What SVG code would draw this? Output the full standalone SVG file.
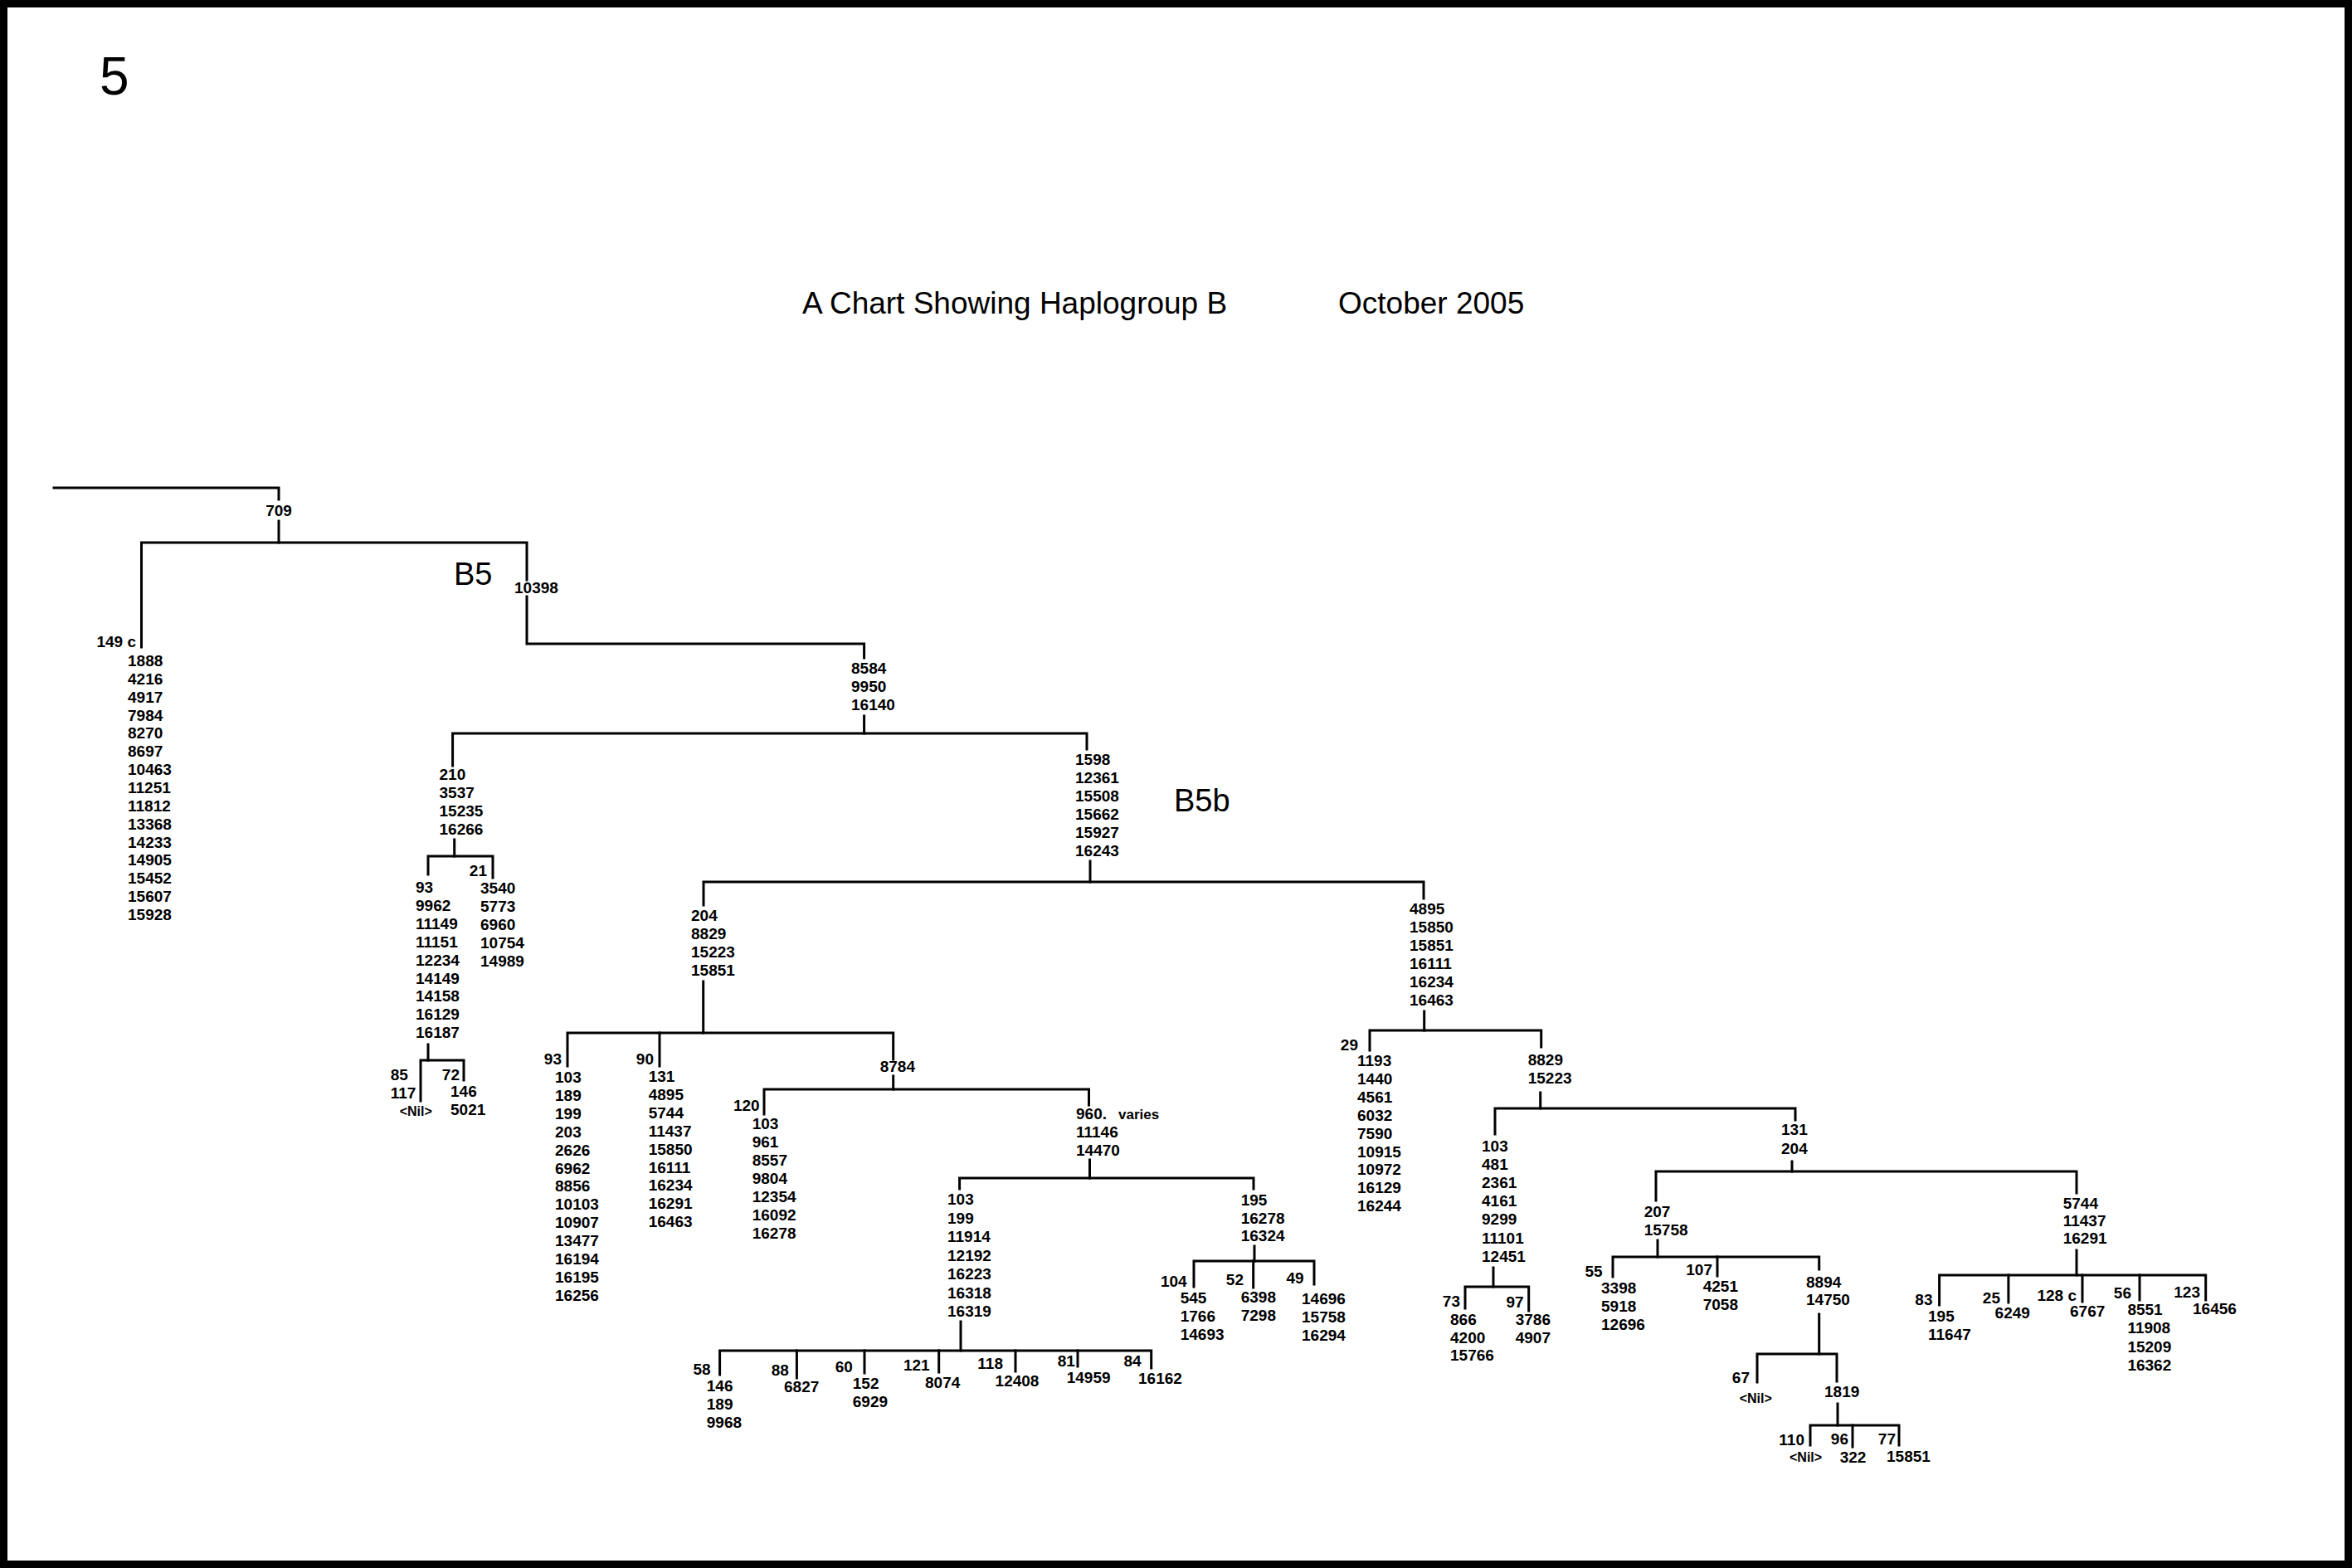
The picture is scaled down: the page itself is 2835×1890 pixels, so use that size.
<svg xmlns="http://www.w3.org/2000/svg" width="2835" height="1890" viewBox="0 0 2835 1890">
<style>
text{font-family:"Liberation Sans",Arial,sans-serif;fill:#000}
.t{font-size:19px;font-weight:bold}
.e{text-anchor:end}
.m{text-anchor:middle}
.nil{font-size:16px;font-weight:bold}
.sm{font-size:17px;font-weight:bold}
.big{font-size:38px}
.title{font-size:37px}
.num{font-size:64px}
#connectors path{fill:none;stroke:#000;stroke-width:3;stroke-linecap:square;stroke-linejoin:miter}
</style>
<rect x="0" y="0" width="2835" height="1890" fill="#fff"/>
<rect x="4.5" y="4.5" width="2826" height="1881" fill="none" stroke="#000" stroke-width="9"/>
<g id="header">
<text class="num" x="120" y="114">5</text>
<text class="title" x="967" y="378">A Chart Showing Haplogroup B</text>
<text class="title" x="1613" y="378">October 2005</text>
<text class="big" x="547" y="705">B5</text>
<text class="big" x="1415" y="978">B5b</text>
</g>
<g id="connectors">
<path d="M65 588H336V602"/>
<path d="M336 628V654"/>
<path d="M170.5 780V654H635V699"/>
<path d="M635 719V776H1041.6V793"/>
<path d="M1041.6 863V884"/>
<path d="M545.6 923V884H1310V903"/>
<path d="M547.7 1012V1032"/>
<path d="M516 1054V1032H594V1058"/>
<path d="M516 1259V1278"/>
<path d="M507 1327V1278H559V1302"/>
<path d="M1314 1038V1063"/>
<path d="M848 1091V1063H1716V1083"/>
<path d="M847.7 1183V1245"/>
<path d="M684 1285V1245H1076.7V1277"/>
<path d="M795 1245V1285"/>
<path d="M1076.7 1297V1313"/>
<path d="M921 1343V1313H1312.5V1332"/>
<path d="M1313.5 1398V1420"/>
<path d="M1156.6 1433V1420H1511V1433"/>
<path d="M1158 1593V1628"/>
<path d="M867.6 1657V1628H1387.7V1649"/>
<path d="M960.4 1628V1661"/>
<path d="M1042 1628V1655"/>
<path d="M1131.7 1628V1654"/>
<path d="M1224 1628V1653"/>
<path d="M1299 1628V1647"/>
<path d="M1512 1502V1520"/>
<path d="M1439 1551V1520H1584V1548"/>
<path d="M1510.7 1520V1552"/>
<path d="M1716.7 1219V1242"/>
<path d="M1651 1266V1242H1857.7V1262"/>
<path d="M1856.7 1317V1336"/>
<path d="M1802 1367V1336H2164V1350"/>
<path d="M1800 1528V1551"/>
<path d="M1766 1577V1551H1842.7V1580"/>
<path d="M2160 1400V1412"/>
<path d="M1996 1447V1412H2503V1438"/>
<path d="M1998 1495V1515"/>
<path d="M1944 1539V1515H2192.7V1530"/>
<path d="M2070 1515V1538"/>
<path d="M2192.7 1584V1632"/>
<path d="M2118 1666V1632H2214V1665"/>
<path d="M2215 1692V1718"/>
<path d="M2182 1742V1718H2289V1742"/>
<path d="M2233 1718V1744"/>
<path d="M2503 1507V1537"/>
<path d="M2337.6 1573V1537H2658.7V1567"/>
<path d="M2420.9 1537V1570"/>
<path d="M2510 1537V1569"/>
<path d="M2579 1537V1567"/>
</g>
<g id="n709"><text class="t m" x="336" y="622">709</text></g>
<g id="n149c">
<text class="t e" x="164" y="780">149 c</text>
<text class="t" x="154" y="803">1888<tspan x="154" dy="21.86">4216</tspan><tspan x="154" dy="21.86">4917</tspan><tspan x="154" dy="21.86">7984</tspan><tspan x="154" dy="21.86">8270</tspan><tspan x="154" dy="21.86">8697</tspan><tspan x="154" dy="21.86">10463</tspan><tspan x="154" dy="21.86">11251</tspan><tspan x="154" dy="21.86">11812</tspan><tspan x="154" dy="21.86">13368</tspan><tspan x="154" dy="21.86">14233</tspan><tspan x="154" dy="21.86">14905</tspan><tspan x="154" dy="21.86">15452</tspan><tspan x="154" dy="21.86">15607</tspan><tspan x="154" dy="21.86">15928</tspan></text>
</g>
<g id="n10398"><text class="t" x="620" y="715">10398</text></g>
<g id="n8584"><text class="t" x="1026" y="812">8584<tspan x="1026" dy="22">9950</tspan><tspan x="1026" dy="22">16140</tspan></text></g>
<g id="n210"><text class="t" x="529.5" y="940">210<tspan x="529.5" dy="22">3537</tspan><tspan x="529.5" dy="22">15235</tspan><tspan x="529.5" dy="22">16266</tspan></text></g>
<g id="n93a"><text class="t" x="501" y="1076">93<tspan x="501" dy="21.9">9962</tspan><tspan x="501" dy="21.9">11149</tspan><tspan x="501" dy="21.9">11151</tspan><tspan x="501" dy="21.9">12234</tspan><tspan x="501" dy="21.9">14149</tspan><tspan x="501" dy="21.9">14158</tspan><tspan x="501" dy="21.9">16129</tspan><tspan x="501" dy="21.9">16187</tspan></text></g>
<g id="n21">
<text class="t e" x="587" y="1056">21</text>
<text class="t" x="579" y="1077">3540<tspan x="579" dy="21.9">5773</tspan><tspan x="579" dy="21.9">6960</tspan><tspan x="579" dy="21.9">10754</tspan><tspan x="579" dy="21.9">14989</tspan></text>
</g>
<g id="n85">
<text class="t" x="470.7" y="1302">85<tspan x="470.7" dy="22">117</tspan></text>
<text class="nil" x="481.7" y="1345">&lt;Nil&gt;</text>
</g>
<g id="n72">
<text class="t e" x="554" y="1302">72</text>
<text class="t" x="543" y="1322">146<tspan x="543" dy="22">5021</tspan></text>
</g>
<g id="n1598"><text class="t" x="1296" y="922">1598<tspan x="1296" dy="22">12361</tspan><tspan x="1296" dy="22">15508</tspan><tspan x="1296" dy="22">15662</tspan><tspan x="1296" dy="22">15927</tspan><tspan x="1296" dy="22">16243</tspan></text></g>
<g id="n204"><text class="t" x="833" y="1110">204<tspan x="833" dy="22">8829</tspan><tspan x="833" dy="22">15223</tspan><tspan x="833" dy="22">15851</tspan></text></g>
<g id="n93b">
<text class="t e" x="677" y="1283">93</text>
<text class="t" x="669" y="1305">103<tspan x="669" dy="21.9">189</tspan><tspan x="669" dy="21.9">199</tspan><tspan x="669" dy="21.9">203</tspan><tspan x="669" dy="21.9">2626</tspan><tspan x="669" dy="21.9">6962</tspan><tspan x="669" dy="21.9">8856</tspan><tspan x="669" dy="21.9">10103</tspan><tspan x="669" dy="21.9">10907</tspan><tspan x="669" dy="21.9">13477</tspan><tspan x="669" dy="21.9">16194</tspan><tspan x="669" dy="21.9">16195</tspan><tspan x="669" dy="21.9">16256</tspan></text>
</g>
<g id="n90">
<text class="t e" x="788" y="1283">90</text>
<text class="t" x="781.7" y="1304">131<tspan x="781.7" dy="21.9">4895</tspan><tspan x="781.7" dy="21.9">5744</tspan><tspan x="781.7" dy="21.9">11437</tspan><tspan x="781.7" dy="21.9">15850</tspan><tspan x="781.7" dy="21.9">16111</tspan><tspan x="781.7" dy="21.9">16234</tspan><tspan x="781.7" dy="21.9">16291</tspan><tspan x="781.7" dy="21.9">16463</tspan></text>
</g>
<g id="n8784"><text class="t" x="1060.7" y="1292">8784</text></g>
<g id="n120">
<text class="t e" x="915.7" y="1339">120</text>
<text class="t" x="906.7" y="1361">103<tspan x="906.7" dy="22">961</tspan><tspan x="906.7" dy="22">8557</tspan><tspan x="906.7" dy="22">9804</tspan><tspan x="906.7" dy="22">12354</tspan><tspan x="906.7" dy="22">16092</tspan><tspan x="906.7" dy="22">16278</tspan></text>
</g>
<g id="n960">
<text class="t" x="1297" y="1349">960.</text>
<text class="sm" x="1348" y="1349">varies</text>
<text class="t" x="1297" y="1371">11146<tspan x="1297" dy="22">14470</tspan></text>
</g>
<g id="n103a"><text class="t" x="1142" y="1452">103<tspan x="1142" dy="22.5">199</tspan><tspan x="1142" dy="22.5">11914</tspan><tspan x="1142" dy="22.5">12192</tspan><tspan x="1142" dy="22.5">16223</tspan><tspan x="1142" dy="22.5">16318</tspan><tspan x="1142" dy="22.5">16319</tspan></text></g>
<g id="n58">
<text class="t e" x="856.6" y="1657">58</text>
<text class="t" x="851.8" y="1677">146<tspan x="851.8" dy="22">189</tspan><tspan x="851.8" dy="22">9968</tspan></text>
</g>
<g id="n88"><text class="t e" x="950.8" y="1658">88</text><text class="t" x="945" y="1678">6827</text></g>
<g id="n60"><text class="t e" x="1027.8" y="1654">60</text><text class="t" x="1027.8" y="1674">152<tspan x="1027.8" dy="22">6929</tspan></text></g>
<g id="n121"><text class="t e" x="1120.7" y="1652">121</text><text class="t" x="1115" y="1673">8074</text></g>
<g id="n118"><text class="t e" x="1209" y="1650">118</text><text class="t" x="1199.6" y="1671">12408</text></g>
<g id="n81"><text class="t e" x="1295.8" y="1647">81</text><text class="t" x="1285.7" y="1667">14959</text></g>
<g id="n84"><text class="t e" x="1375.7" y="1647">84</text><text class="t" x="1372" y="1668">16162</text></g>
<g id="n195"><text class="t" x="1495.7" y="1453">195<tspan x="1495.7" dy="21.5">16278</tspan><tspan x="1495.7" dy="21.5">16324</tspan></text></g>
<g id="n104"><text class="t e" x="1430.7" y="1551">104</text><text class="t" x="1422.7" y="1571">545<tspan x="1422.7" dy="22">1766</tspan><tspan x="1422.7" dy="22">14693</tspan></text></g>
<g id="n52"><text class="t e" x="1499" y="1549">52</text><text class="t" x="1495.7" y="1570">6398<tspan x="1495.7" dy="22">7298</tspan></text></g>
<g id="n49"><text class="t e" x="1571.7" y="1547">49</text><text class="t" x="1569" y="1572">14696<tspan x="1569" dy="22">15758</tspan><tspan x="1569" dy="22">16294</tspan></text></g>
<g id="n4895"><text class="t" x="1699" y="1102">4895<tspan x="1699" dy="22">15850</tspan><tspan x="1699" dy="22">15851</tspan><tspan x="1699" dy="22">16111</tspan><tspan x="1699" dy="22">16234</tspan><tspan x="1699" dy="22">16463</tspan></text></g>
<g id="n29">
<text class="t e" x="1637" y="1266">29</text>
<text class="t" x="1636" y="1285">1193<tspan x="1636" dy="21.9">1440</tspan><tspan x="1636" dy="21.9">4561</tspan><tspan x="1636" dy="21.9">6032</tspan><tspan x="1636" dy="21.9">7590</tspan><tspan x="1636" dy="21.9">10915</tspan><tspan x="1636" dy="21.9">10972</tspan><tspan x="1636" dy="21.9">16129</tspan><tspan x="1636" dy="21.9">16244</tspan></text>
</g>
<g id="n8829"><text class="t" x="1841.7" y="1284">8829<tspan x="1841.7" dy="22">15223</tspan></text></g>
<g id="n103b"><text class="t" x="1786" y="1388">103<tspan x="1786" dy="22.1">481</tspan><tspan x="1786" dy="22.1">2361</tspan><tspan x="1786" dy="22.1">4161</tspan><tspan x="1786" dy="22.1">9299</tspan><tspan x="1786" dy="22.1">11101</tspan><tspan x="1786" dy="22.1">12451</tspan></text></g>
<g id="n73"><text class="t e" x="1760" y="1575">73</text><text class="t" x="1748" y="1597">866<tspan x="1748" dy="21.5">4200</tspan><tspan x="1748" dy="21.5">15766</tspan></text></g>
<g id="n97"><text class="t e" x="1836.7" y="1576">97</text><text class="t" x="1826.7" y="1597">3786<tspan x="1826.7" dy="22">4907</tspan></text></g>
<g id="n131"><text class="t" x="2147" y="1368">131<tspan x="2147" dy="23">204</tspan></text></g>
<g id="n207"><text class="t" x="1981.7" y="1467">207<tspan x="1981.7" dy="22">15758</tspan></text></g>
<g id="n55"><text class="t e" x="1931.7" y="1539">55</text><text class="t" x="1930" y="1559">3398<tspan x="1930" dy="22">5918</tspan><tspan x="1930" dy="22">12696</tspan></text></g>
<g id="n107"><text class="t e" x="2064" y="1537">107</text><text class="t" x="2052.7" y="1557">4251<tspan x="2052.7" dy="22">7058</tspan></text></g>
<g id="n8894"><text class="t" x="2177" y="1552">8894<tspan x="2177" dy="21">14750</tspan></text></g>
<g id="n67"><text class="t e" x="2109" y="1667">67</text><text class="nil" x="2096.7" y="1691">&lt;Nil&gt;</text></g>
<g id="n1819"><text class="t" x="2199" y="1684">1819</text></g>
<g id="n110"><text class="t e" x="2175" y="1742">110</text><text class="nil" x="2157" y="1762">&lt;Nil&gt;</text></g>
<g id="n96"><text class="t e" x="2228" y="1741">96</text><text class="t" x="2217.7" y="1763">322</text></g>
<g id="n77"><text class="t e" x="2285" y="1741">77</text><text class="t" x="2274" y="1762">15851</text></g>
<g id="n5744"><text class="t" x="2486.7" y="1457">5744<tspan x="2486.7" dy="21">11437</tspan><tspan x="2486.7" dy="21">16291</tspan></text></g>
<g id="n83"><text class="t e" x="2329.5" y="1573">83</text><text class="t" x="2324" y="1593">195<tspan x="2324" dy="22">11647</tspan></text></g>
<g id="n25"><text class="t e" x="2411" y="1571">25</text><text class="t" x="2404.6" y="1589">6249</text></g>
<g id="n128c"><text class="t e" x="2503" y="1568">128 c</text><text class="t" x="2495" y="1587">6767</text></g>
<g id="n56"><text class="t e" x="2569" y="1565">56</text><text class="t" x="2564.4" y="1585">8551<tspan x="2564.4" dy="22.3">11908</tspan><tspan x="2564.4" dy="22.3">15209</tspan><tspan x="2564.4" dy="22.3">16362</tspan></text></g>
<g id="n123"><text class="t e" x="2652" y="1564">123</text><text class="t" x="2643" y="1584">16456</text></g>
</svg>
